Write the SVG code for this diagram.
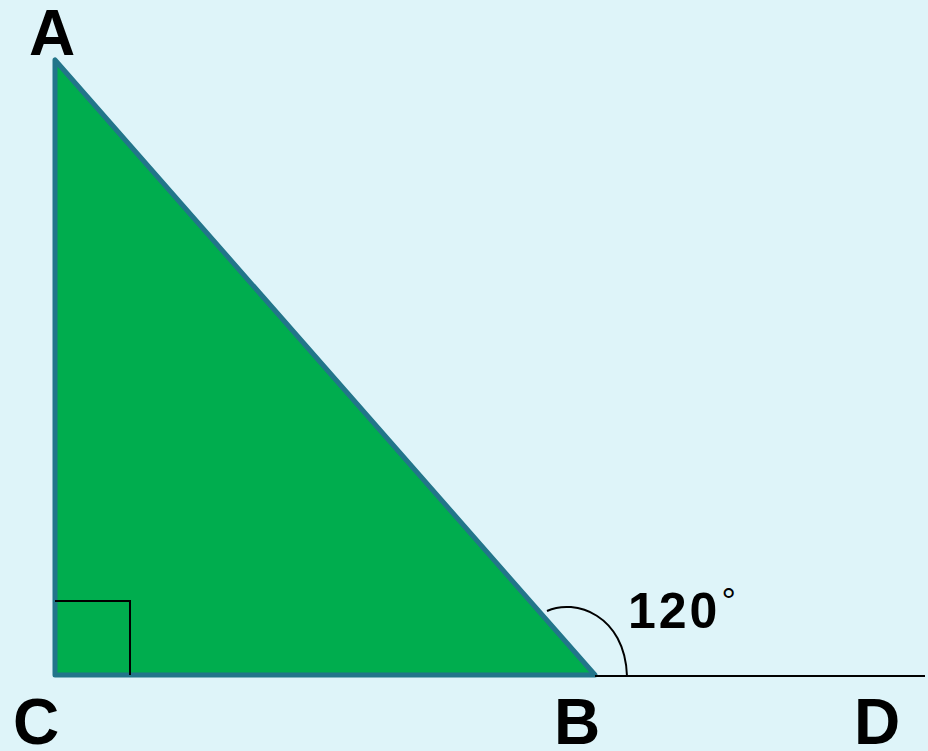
<svg xmlns="http://www.w3.org/2000/svg" width="928" height="751" viewBox="0 0 928 751">
<style>
.lbl{font-family:"Liberation Sans",Arial,sans-serif;font-weight:bold;fill:#000;text-anchor:middle}
.thin{fill:none;stroke:#000;stroke-width:2}
</style>
<rect width="928" height="751" fill="#def4f9"/>
<g id="triangle">
<polygon points="55,60 55,675 595,675" fill="#00ad4e" stroke="#22758a" stroke-width="5" stroke-linejoin="round"/>
<polyline class="thin" points="55,601 130,601 130,675"/>
</g>
<g id="connectors">
<line class="thin" x1="595" y1="676" x2="925" y2="676"/>
<path class="thin" d="M547,611 C575,598 625,615 627,676"/>
</g>
<g id="labels">
<text class="lbl" x="52" y="55" font-size="64">A</text>
<text class="lbl" x="36" y="744" font-size="64">C</text>
<text class="lbl" x="577" y="744" font-size="64">B</text>
<text class="lbl" x="877" y="744" font-size="64">D</text>
<text x="628" y="628" font-family="Liberation Sans,Arial,sans-serif" font-weight="bold" font-size="50" letter-spacing="3">120<tspan font-size="36" font-weight="normal" letter-spacing="0" dx="1" dy="-14">°</tspan></text>
</g>
</svg>
